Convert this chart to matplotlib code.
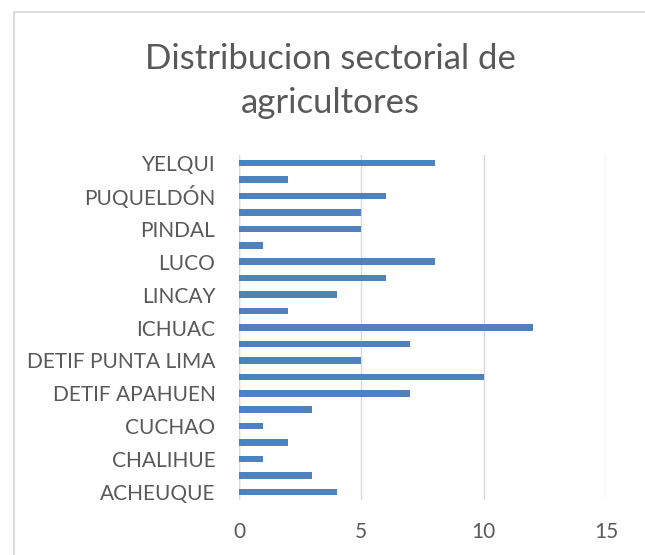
import matplotlib
matplotlib.use("Agg")
import matplotlib.pyplot as plt
from matplotlib.patches import Rectangle

# Sectors from bottom to top; only every other name is printed on the axis
sectors = ["ACHEUQUE", "", "CHALIHUE", "", "CUCHAO", "", "DETIF APAHUEN", "",
           "DETIF PUNTA LIMA", "", "ICHUAC", "", "LINCAY", "", "LUCO", "",
           "PINDAL", "", "PUQUELDÓN", "", "YELQUI"]
farmers = [4, 3, 1, 2, 1, 3, 7, 10, 5, 7, 12, 2, 4, 6, 8, 1, 5, 5, 6, 2, 8]
x_ticks = [0, 5, 10, 15]

plt.rcParams["font.family"] = ["Lato", "DejaVu Sans"]

W, H = 645, 555
fig = plt.figure(figsize=(W / 100, H / 100), dpi=100)

# outer chart frame
fig.patches.append(Rectangle((13.5 / W, -0.01), 1.1, 1 - 11.5 / H + 0.01,
                             transform=fig.transFigure, fill=False,
                             edgecolor="#d9d9d9", linewidth=1.3))

ax = fig.add_axes([239 / W, 1 - 500.2 / H, (606 - 239) / W, (500.2 - 154.8) / H])

pos = list(range(len(farmers)))
ax.barh(pos, farmers, height=0.4, color="#4F81BD", zorder=3)

ax.set_xlim(0, 15)
ax.set_ylim(-0.5, len(farmers) - 0.5)
ax.set_xticks(x_ticks)
ax.set_xticklabels([str(t) for t in x_ticks])
ax.set_yticks(pos)
ax.set_yticklabels(sectors)

ax.grid(axis="x", color="#d9d9d9", linewidth=1.0, zorder=0)
for s in ax.spines.values():
    s.set_visible(False)
ax.axvline(0, color="#d9d9d9", linewidth=1.0, zorder=1)

ax.tick_params(axis="both", length=0, colors="#595959", labelsize=15)
ax.tick_params(axis="y", pad=17)
ax.tick_params(axis="x", pad=16)

fig.text(0.512, 1 - 81 / H, "Distribucion sectorial de\nagricultores",
         ha="center", va="center", fontsize=25,
         color="#595959", linespacing=1.45)

fig.savefig("out.png", dpi=100)
